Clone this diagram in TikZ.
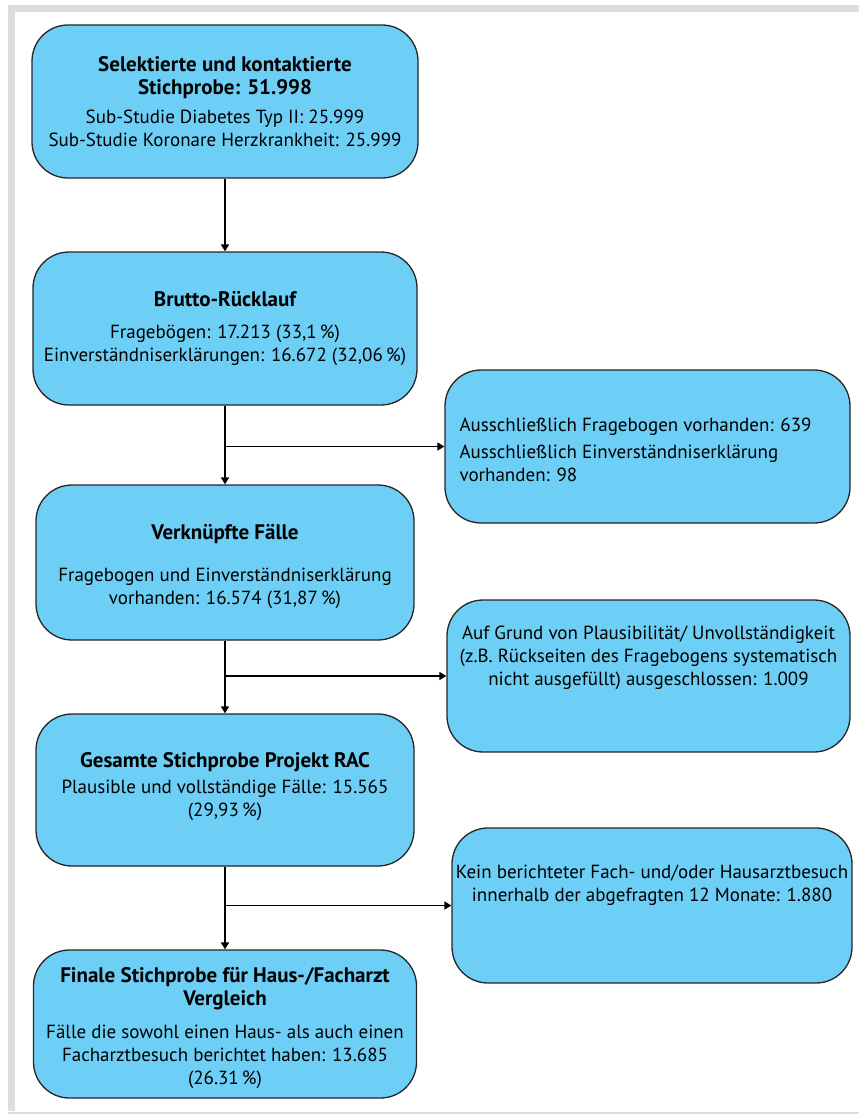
\documentclass[tikz,border=0pt]{standalone}
\usepackage{fontspec}
\setmainfont{PT Sans}
\usetikzlibrary{arrows.meta}

\definecolor{boxblue}{RGB}{109,207,246}
\definecolor{framegray}{RGB}{220,221,222}
\newcommand{\boxhead}[1]{{\fontsize{21}{23}\selectfont\bfseries #1}}

\begin{document}
\begin{tikzpicture}[x=1pt,y=-1pt,
  box/.style={draw=black!85,fill=boxblue,line width=1.3pt,rounded corners=36pt,
    align=center,font=\fontsize{19}{23}\selectfont},
  sidetext/.style={inner sep=0pt,font=\fontsize{19}{23}\selectfont},
  arr/.style={line width=1.6pt,-{Triangle[length=7pt,width=8pt]}}]
\useasboundingbox (0,0) rectangle (859,1115);
% frame
\fill[framegray] (8,5) rectangle (859,12);
\fill[framegray] (8,5) rectangle (15,1111);
\fill[framegray] (8,1112) rectangle (859,1114);

% main column
\node[box,minimum width=386pt,minimum height=153pt] (sample) at (225,101.5)
  {\boxhead{Selektierte und kontaktierte}\\\boxhead{Stichprobe: 51.998}\\[6pt]
   Sub-Studie Diabetes Typ II: 25.999\\Sub-Studie Koronare Herzkrankheit: 25.999};
\node[box,minimum width=384pt,minimum height=153pt] (gross) at (225,328.5)
  {\boxhead{Brutto-Rücklauf}\\[9pt]
   Fragebögen: 17.213 (33,1\,\%)\\Einverständniserklärungen: 16.672 (32,06\,\%)};
\node[box,minimum width=378pt,minimum height=155pt] (linked) at (225,562.5)
  {\rule{0pt}{23pt}\boxhead{Verknüpfte Fälle}\\[19pt]
   Fragebogen und Einverständniserklärung\\vorhanden: 16.574 (31,87\,\%)};
\node[box,minimum width=378pt,minimum height=152pt] (total) at (225,790)
  {\boxhead{Gesamte Stichprobe Projekt RAC}\\[3pt]
   Plausible und vollständige Fälle: 15.565\\(29,93\,\%)\rule[-12pt]{0pt}{1pt}};
\node[box,minimum width=383pt,minimum height=148pt] (final) at (225,1024)
  {\rule{0pt}{24pt}\boxhead{Finale Stichprobe für Haus-/Facharzt}\\\boxhead{Vergleich}\\[10pt]
   Fälle die sowohl einen Haus- als auch einen\\Facharztbesuch berichtet haben: 13.685\\(26.31\,\%)};

% side boxes
\node[box,minimum width=405pt,minimum height=153pt] (onlyone) at (647.5,446.5) {};
\node[sidetext,anchor=north west,align=left] (onlyonetxt) at ([xshift=15pt,yshift=-48pt]onlyone.north west)
  {Ausschließlich Fragebogen vorhanden: 639\\[4pt]Ausschließlich Einverständniserklärung\\vorhanden: 98};
\node[box,minimum width=403pt,minimum height=152pt] (implaus) at (648.5,676) {};
\node[sidetext,anchor=north,align=center] (implaustxt) at ([yshift=-26pt]implaus.north)
  {Auf Grund von Plausibilität/ Unvollständigkeit\\(z.B. Rückseiten des Fragebogens systematisch\\nicht ausgefüllt) ausgeschlossen: 1.009};
\node[box,minimum width=400pt,minimum height=155pt] (novisit) at (652,905.5) {};
\node[sidetext,anchor=north,align=center] (novisittxt) at ([yshift=-37pt]novisit.north)
  {Kein berichteter Fach- und/oder Hausarztbesuch\\innerhalb der abgefragten 12 Monate: 1.880};

% connectors
\coordinate (j1) at (gross.south |- onlyone.west);
\coordinate (j2) at (linked.south |- implaus.west);
\coordinate (j3) at (total.south |- novisit.west);
\path[draw,arr] (sample) -- (gross);
\path[draw,arr] (gross) -- (linked);
\path[draw,arr] (j1) -- (onlyone);
\path[draw,line width=2.6pt] (linked) -- (j2);
\path[draw,arr] (linked) -- (total);
\path[draw,arr] (j2) -- (implaus);
\path[draw,line width=2.6pt] (total) -- (j3);
\path[draw,arr] (total) -- (final);
\path[draw,arr] (j3) -- (novisit);
\end{tikzpicture}
\end{document}
